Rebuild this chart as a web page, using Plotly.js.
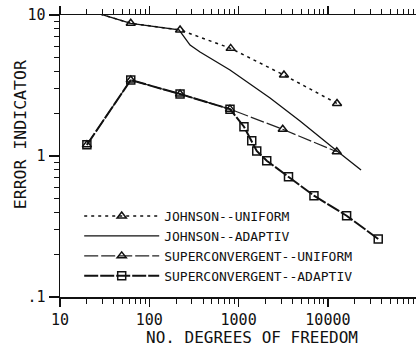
<!DOCTYPE html>
<html>
<head>
<meta charset="utf-8">
<script src="https://cdn.plot.ly/plotly-3.0.1.min.js"></script>
<style>
html,body{margin:0;padding:0;overflow:hidden;background:#fff;width:416px;height:347px;}
#chart{width:460px;height:347px;}
</style>
</head>
<body>
<div id="chart"></div>
<script>
// Johnson -- uniform refinement
const johnsonUniformDof = [20, 62, 221, 815, 3220, 12650];
const johnsonUniformErr = [10.85, 8.73, 7.83, 5.80, 3.75, 2.36];

// Johnson -- adaptive refinement
const johnsonAdaptiveDof = [20, 62, 215, 245, 286, 370, 801, 2250, 4870, 12650, 23500];
const johnsonAdaptiveErr = [10.85, 8.73, 7.83, 6.98, 6.12, 5.47, 4.07, 2.58, 1.77, 1.085, 0.796];

// Superconvergent -- uniform refinement
const superUniformDof = [20, 62, 221, 801, 3120, 12560];
const superUniformErr = [1.20, 3.46, 2.75, 2.15, 1.546, 1.073];

// Superconvergent -- adaptive refinement
const superAdaptiveDof = [20, 62, 221, 801, 1148, 1403, 1596, 2065, 3620, 6980, 16200, 36600];
const superAdaptiveErr = [1.20, 3.46, 2.75, 2.15, 1.614, 1.284, 1.085, 0.926, 0.714, 0.523, 0.377, 0.258];

const seriesNames = ["JOHNSON--UNIFORM", "JOHNSON--ADAPTIV", "SUPERCONVERGENT--UNIFORM", "SUPERCONVERGENT--ADAPTIV"];

const xTickVals = [10, 100, 1000, 10000];
const xTickText = ["10", "100", "1000", "10000"];
const yTickVals = [0.1, 1, 10];
const yTickText = [".1", "1", "10"];

const xTitle = "NO. DEGREES OF FREEDOM";
const yTitle = "ERROR INDICATOR";

const FONT = "DejaVu Sans Mono, Liberation Mono, monospace";

const traces = [
  {
    x: johnsonUniformDof, y: johnsonUniformErr, name: seriesNames[0],
    type: "scatter", mode: "lines+markers",
    line: {color: "#111", width: 1.5, dash: "3px,4px"},
    marker: {symbol: "triangle-up-open", size: 8, color: "#111", line: {width: 1.5, color: "#111"}}
  },
  {
    x: johnsonAdaptiveDof, y: johnsonAdaptiveErr, name: seriesNames[1],
    type: "scatter", mode: "lines",
    line: {color: "#111", width: 1.3}
  },
  {
    x: superUniformDof, y: superUniformErr, name: seriesNames[2],
    type: "scatter", mode: "lines+markers",
    line: {color: "#222", width: 1.2, dash: "14px,3px"},
    marker: {symbol: "triangle-up-open", size: 8, color: "#111", line: {width: 1.5, color: "#111"}}
  },
  {
    x: superAdaptiveDof, y: superAdaptiveErr, name: seriesNames[3],
    type: "scatter", mode: "lines+markers",
    line: {color: "#111", width: 2, dash: "14px,2px"},
    marker: {symbol: "square-open", size: 8, color: "#111", line: {width: 1.5, color: "#111"}}
  }
];

const layout = {
  width: 460, height: 347,
  margin: {l: 60, r: 16, t: 15, b: 50, pad: 0},
  paper_bgcolor: "#fff", plot_bgcolor: "#fff",
  font: {family: FONT, color: "#111", size: 14},
  showlegend: true,
  legend: {
    x: 0.05, y: 0.34, xanchor: "left", yanchor: "top",
    bgcolor: "rgba(0,0,0,0)", borderwidth: 0,
    font: {family: FONT, size: 13, color: "#111"},
    itemwidth: 75, tracegroupgap: 0
  },
  xaxis: {
    type: "log", range: [1, 5.30],
    showgrid: false, zeroline: false,
    showline: true, linecolor: "#111", linewidth: 1.5, mirror: "ticks",
    ticks: "outside", ticklen: 8, tickwidth: 1.2, tickcolor: "#111",
    tickvals: xTickVals, ticktext: xTickText,
    tickfont: {family: FONT, size: 15, color: "#111"},
    minor: {dtick: "D1", ticks: "outside", ticklen: 5, tickwidth: 1, tickcolor: "#111", showgrid: false},
    title: {text: xTitle, font: {family: FONT, size: 16, color: "#111"}, standoff: 8},
    automargin: false
  },
  yaxis: {
    type: "log", range: [-1, 1],
    showgrid: false, zeroline: false,
    showline: true, linecolor: "#111", linewidth: 1.5, mirror: "ticks",
    ticks: "outside", ticklen: 10, tickwidth: 1.2, tickcolor: "#111",
    tickvals: yTickVals, ticktext: yTickText,
    tickfont: {family: FONT, size: 15, color: "#111"},
    minor: {dtick: "D1", ticks: "outside", ticklen: 5, tickwidth: 1, tickcolor: "#111", showgrid: false},
    automargin: false
  },
  annotations: [
    {
      text: yTitle, xref: "paper", yref: "paper",
      x: -0.104, y: 0.574, xanchor: "center", yanchor: "middle",
      textangle: -90, showarrow: false,
      font: {family: FONT, size: 16.5, color: "#111"}
    }
  ]
};

Plotly.newPlot("chart", traces, layout, {displayModeBar: false, staticPlot: true});
</script>
</body>
</html>
